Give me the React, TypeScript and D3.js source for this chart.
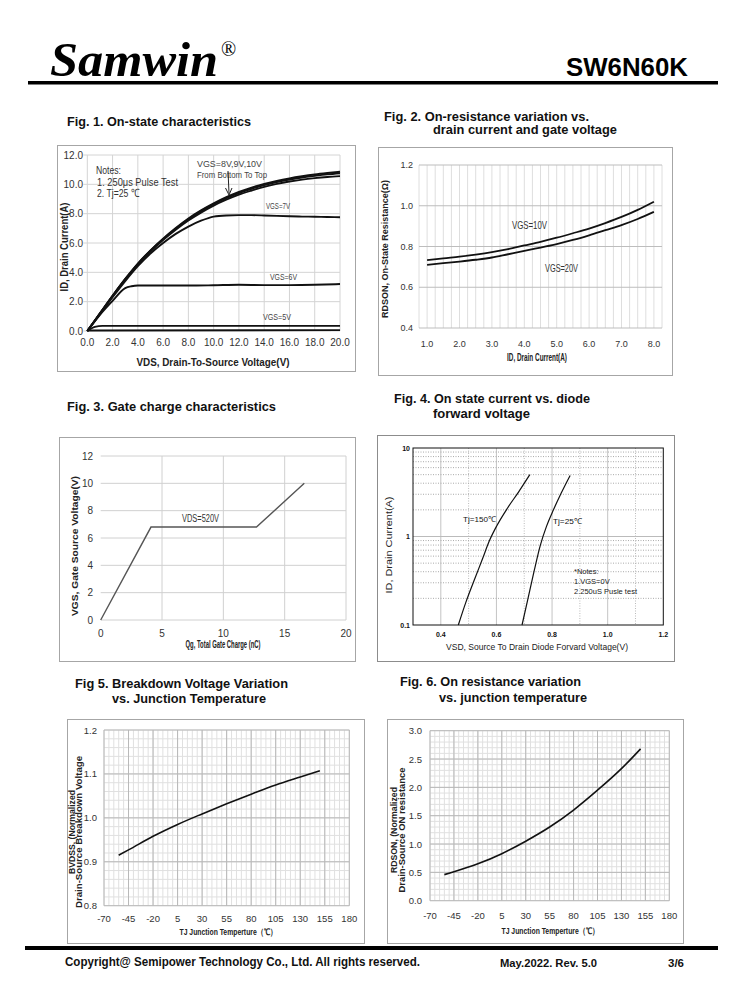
import React from "react";
import * as d3 from "d3";

const ARIAL = "'Liberation Sans', Arial, Helvetica, sans-serif";
const NARROW = "'Liberation Sans Narrow', 'Arial Narrow', 'Liberation Sans', sans-serif";
const SERIF = "'Liberation Serif', 'Times New Roman', serif";

// ---------------- Fig 1 data ----------------
const fig1XTicks = [0, 2, 4, 6, 8, 10, 12, 14, 16, 18, 20];
const fig1YTicks = [0, 2, 4, 6, 8, 10, 12];
const fig1Vgs10 = [[0,0],[1,1.2],[2,2.4],[3,3.55],[4,4.6],[5,5.5],[6,6.3],[7,7.02],[8,7.67],[9,8.22],[10,8.7],[11,9.12],[12,9.48],[13,9.78],[14,10.03],[15,10.24],[16,10.41],[17,10.55],[18,10.67],[19,10.77],[20,10.86]];
const fig1Vgs9 = [[0,0],[1,1.2],[2,2.4],[3,3.54],[4,4.58],[5,5.48],[6,6.27],[7,6.98],[8,7.62],[9,8.17],[10,8.65],[11,9.06],[12,9.41],[13,9.7],[14,9.95],[15,10.16],[16,10.33],[17,10.47],[18,10.58],[19,10.68],[20,10.76]];
const fig1Vgs8 = [[0,0],[1,1.19],[2,2.38],[3,3.5],[4,4.53],[5,5.42],[6,6.2],[7,6.9],[8,7.53],[9,8.07],[10,8.55],[11,8.95],[12,9.3],[13,9.58],[14,9.83],[15,10.03],[16,10.19],[17,10.32],[18,10.42],[19,10.5],[20,10.56]];
const fig1Vgs7 = [[0,0],[1,1.15],[2,2.3],[3,3.4],[4,4.42],[5,5.28],[6,6.0],[7,6.62],[8,7.12],[9,7.52],[10,7.8],[11,7.88],[12,7.9],[13,7.9],[14,7.88],[15,7.85],[16,7.82],[17,7.8],[18,7.79],[19,7.77],[20,7.76]];
const fig1Vgs6 = [[0,0],[1,1.1],[2,2.05],[3,2.92],[3.5,3.05],[4,3.1],[6,3.1],[8,3.1],[10,3.12],[12,3.15],[14,3.13],[16,3.13],[18,3.15],[20,3.2]];
const fig1Vgs5 = [[0,0],[0.6,0.28],[1.2,0.35],[5,0.35],[10,0.35],[15,0.35],[20,0.35]];
const fig1Vgs4 = [[0,0.03],[20,0.06]];

// ---------------- Fig 2 data ----------------
const fig2XTicks = [1, 2, 3, 4, 5, 6, 7, 8];
const fig2YTicks = [0.4, 0.6, 0.8, 1.0, 1.2];
const fig2Id = [1, 1.5, 2, 2.5, 3, 3.5, 4, 4.5, 5, 5.5, 6, 6.5, 7, 7.5, 8];
const fig2Vgs10 = [0.733, 0.742, 0.75, 0.76, 0.772, 0.787, 0.805, 0.823, 0.843, 0.865, 0.888, 0.915, 0.945, 0.98, 1.02];
const fig2Vgs20 = [0.71, 0.718, 0.726, 0.735, 0.746, 0.762, 0.778, 0.795, 0.812, 0.832, 0.855, 0.88, 0.905, 0.935, 0.97];

// ---------------- Fig 3 data ----------------
const fig3XTicks = [0, 5, 10, 15, 20];
const fig3YTicks = [0, 2, 4, 6, 8, 10, 12];
const fig3Qg = [0, 4.1, 12.7, 16.6];
const fig3Vgs = [0, 6.8, 6.8, 10];

// ---------------- Fig 4 data ----------------
const fig4XTicks = [0.4, 0.6, 0.8, 1.0, 1.2];
const fig4YTicks = [0.1, 1, 10];
const fig4Tj150 = [[0.463,0.1],[0.49,0.18],[0.52,0.32],[0.55,0.56],[0.575,0.9],[0.6,1.3],[0.64,2.1],[0.68,3.2],[0.72,5.0]];
const fig4Tj25 = [[0.692,0.1],[0.712,0.19],[0.735,0.4],[0.758,0.8],[0.78,1.3],[0.805,2.0],[0.833,3.1],[0.865,4.9]];

// ---------------- Fig 5 / 6 data ----------------
const tjTicks = [-70, -45, -20, 5, 30, 55, 80, 105, 130, 155, 180];
const fig5YTicks = [0.8, 0.9, 1.0, 1.1, 1.2];
const fig6YTicks = [0, 0.5, 1.0, 1.5, 2.0, 2.5, 3.0];
const tjPoints = [-55, -45, -20, 5, 30, 55, 80, 105, 130, 150];
const fig5Bv = [0.915, 0.927, 0.958, 0.985, 1.009, 1.032, 1.054, 1.075, 1.093, 1.107];
const fig6Rds = [0.46, 0.51, 0.65, 0.83, 1.05, 1.30, 1.60, 1.95, 2.33, 2.68];

const Frame = ({ x0, y0, x1, y1, stroke = "#a6a6a6" }) => (
  <rect x={x0 + 0.5} y={y0 + 0.5} width={x1 - x0} height={y1 - y0} fill="#fff" stroke={stroke} strokeWidth={1} />
);

const T = ({ x, y, w, size, children, weight = "normal", fill = "#333", family = ARIAL, anchor = "start" }) => (
  <text x={x} y={y} fontFamily={family} fontSize={size} fontWeight={weight} fill={fill} textAnchor={anchor}
    textLength={w} lengthAdjust="spacingAndGlyphs">{children}</text>
);

function Fig1() {
  const x = d3.scaleLinear().domain([0, 20]).range([87.3, 340]);
  const y = d3.scaleLinear().domain([0, 12]).range([331, 155]);
  const line = d3.line<number[]>().x((d) => x(d[0])).y((d) => y(d[1])).curve(d3.curveMonotoneX);
  const series = [fig1Vgs10, fig1Vgs9, fig1Vgs8, fig1Vgs7, fig1Vgs6, fig1Vgs5, fig1Vgs4];
  return (
    <g>
      <Frame x0={57} y0={145} x1={355} y1={371} />
      {fig1XTicks.map((t) => (
        <line key={"vx" + t} x1={x(t)} x2={x(t)} y1={y(12)} y2={y(0)} stroke="#d4d4d4" />
      ))}
      {fig1YTicks.map((t) => (
        <line key={"hy" + t} x1={x(0) - 4} x2={x(20)} y1={y(t)} y2={y(t)} stroke="#d4d4d4" />
      ))}
      {fig1YTicks.map((t) => (
        <text key={"ly" + t} x={83} y={y(t) + 3.5} textAnchor="end" fontFamily={ARIAL} fontSize={10} fill="#333">{t.toFixed(1)}</text>
      ))}
      {fig1XTicks.map((t) => (
        <text key={"lx" + t} x={x(t)} y={345.5} textAnchor="middle" fontFamily={ARIAL} fontSize={10} fill="#333">{t.toFixed(1)}</text>
      ))}
      {series.map((s, i) => (
        <path key={"s" + i} d={line(s) || ""} fill="none" stroke="#111" strokeWidth={1.9} />
      ))}
      <text x={213} y={366} textAnchor="middle" fontFamily={NARROW} fontWeight="bold" fontSize={10.5} fill="#222" textLength={153} lengthAdjust="spacingAndGlyphs">VDS,  Drain-To-Source Voltage(V)</text>
      <text transform="translate(68,247) rotate(-90)" textAnchor="middle" fontFamily={NARROW} fontWeight="bold" fontSize={10.5} fill="#222" textLength={89} lengthAdjust="spacingAndGlyphs">ID,  Drain Current(A)</text>
      <T x={96} y={174} w={25} size={11.5}>Notes:</T>
      <T x={97} y={185.5} w={81} size={11.5}>1. 250μs  Pulse Test</T>
      <T x={97} y={197} w={42} size={11.5}>2. Tj=25 ℃</T>
      <T x={197} y={167} w={65} size={9} fill="#444">VGS=8V,9V,10V</T>
      <T x={197} y={177.5} w={70} size={9} fill="#444">From Bottom To Top</T>
      <line x1={228} y1={171} x2={229} y2={193} stroke="#222" strokeWidth={1} />
      <path d="M225.5,188 L229,195 L232,188" fill="none" stroke="#222" strokeWidth={1} />
      <T x={266} y={209} w={24} size={9} fill="#444">VGS=7V</T>
      <T x={270} y={280} w={27} size={9} fill="#444">VGS=6V</T>
      <T x={263} y={320} w={28} size={9} fill="#444">VGS=5V</T>
    </g>
  );
}

function Fig2() {
  const x = d3.scaleLinear().domain([0.75, 8.25]).range([419, 662]);
  const y = d3.scaleLinear().domain([0.4, 1.2]).range([328, 165]);
  const line = d3.line<number>().x((d, i) => x(fig2Id[i])).y((d) => y(d)).curve(d3.curveMonotoneX);
  const vgrid = d3.range(0.75, 8.26, 0.25);
  return (
    <g>
      <Frame x0={378} y0={147} x1={672} y1={375} />
      {vgrid.map((t, i) => (
        <line key={"v" + i} x1={x(t)} x2={x(t)} y1={y(1.2)} y2={y(0.4)} stroke="#dedede" />
      ))}
      {fig2YTicks.map((t) => (
        <line key={"h" + t} x1={x(0.75)} x2={x(8.25)} y1={y(t)} y2={y(t)} stroke="#bdbdbd" />
      ))}
      {fig2YTicks.map((t) => (
        <text key={"ly" + t} x={413} y={y(t) + 3} textAnchor="end" fontFamily={NARROW} fontSize={9} fill="#333">{t.toFixed(1)}</text>
      ))}
      {fig2XTicks.map((t) => (
        <text key={"lx" + t} x={x(t)} y={347} textAnchor="middle" fontFamily={NARROW} fontSize={9} fill="#333">{t.toFixed(1)}</text>
      ))}
      <path d={line(fig2Vgs10) || ""} fill="none" stroke="#111" strokeWidth={1.8} />
      <path d={line(fig2Vgs20) || ""} fill="none" stroke="#111" strokeWidth={1.8} />
      <T x={512} y={229} w={35} size={10.5}>VGS=10V</T>
      <T x={545} y={272} w={33} size={10.5}>VGS=20V</T>
      <text x={537} y={360.5} textAnchor="middle" fontFamily={NARROW} fontWeight="bold" fontSize={10} fill="#222" textLength={60} lengthAdjust="spacingAndGlyphs">ID, Drain Current(A)</text>
      <text transform="translate(387.5,249) rotate(-90)" textAnchor="middle" fontFamily={ARIAL} fontWeight="bold" fontSize={8.5} fill="#222" textLength={138} lengthAdjust="spacingAndGlyphs">RDSON, On-State Resistance(Ω)</text>
    </g>
  );
}

function Fig3() {
  const x = d3.scaleLinear().domain([0, 20]).range([100.7, 346]);
  const y = d3.scaleLinear().domain([0, 12]).range([620, 456]);
  const line = d3.line<number>().x((d, i) => x(fig3Qg[i])).y((d) => y(d));
  return (
    <g>
      <Frame x0={59} y0={437} x1={355} y1={661} />
      {fig3XTicks.filter((t) => t > 0).map((t) => (
        <line key={"v" + t} x1={x(t)} x2={x(t)} y1={y(12)} y2={y(0)} stroke="#d0d0d0" />
      ))}
      {fig3YTicks.map((t) => (
        <line key={"h" + t} x1={x(0)} x2={x(20)} y1={y(t)} y2={y(t)} stroke="#d0d0d0" />
      ))}
      {fig3YTicks.map((t) => (
        <text key={"ly" + t} x={93} y={y(t) + 3.5} textAnchor="end" fontFamily={NARROW} fontSize={10} fill="#333">{t}</text>
      ))}
      {fig3XTicks.map((t) => (
        <text key={"lx" + t} x={x(t)} y={637} textAnchor="middle" fontFamily={NARROW} fontSize={10} fill="#333">{t}</text>
      ))}
      <path d={line(fig3Vgs) || ""} fill="none" stroke="#555" strokeWidth={1.4} />
      <T x={182} y={522} w={37} size={10}>VDS=520V</T>
      <text x={223} y={648} textAnchor="middle" fontFamily={NARROW} fontWeight="bold" fontSize={10.5} fill="#222" textLength={75} lengthAdjust="spacingAndGlyphs">Qg, Total Gate Charge (nC)</text>
      <text transform="translate(78,546) rotate(-90)" textAnchor="middle" fontFamily={ARIAL} fontWeight="bold" fontSize={9.5} fill="#222" textLength={140} lengthAdjust="spacingAndGlyphs">VGS,  Gate Source Voltage(V)</text>
    </g>
  );
}

function Fig4() {
  const x = d3.scaleLinear().domain([0.3, 1.2]).range([413, 663.3]);
  const y = d3.scaleLog().domain([0.1, 10]).range([625, 448]);
  const line = d3.line<number[]>().x((d) => x(d[0])).y((d) => y(d[1])).curve(d3.curveMonotoneX);
  const vMajor = [0.4, 0.6, 0.8, 1.0];
  const vMinor = [0.5, 0.7, 0.9, 1.1];
  const hMinor = [0.2, 0.3, 0.4, 0.5, 0.6, 0.7, 0.8, 0.9, 2, 3, 4, 5, 6, 7, 8, 9];
  return (
    <g>
      <Frame x0={377} y0={435} x1={674} y1={661} stroke="#8c8c8c" />
      {vMajor.map((t) => (
        <line key={"vM" + t} x1={x(t)} x2={x(t)} y1={y(10)} y2={y(0.1)} stroke="#c4c4c4" />
      ))}
      {vMinor.map((t) => (
        <line key={"vm" + t} x1={x(t)} x2={x(t)} y1={y(10)} y2={y(0.1)} stroke="#bbb" strokeDasharray="1,1.5" />
      ))}
      {hMinor.map((t) => (
        <line key={"hm" + t} x1={x(0.3)} x2={x(1.2)} y1={y(t)} y2={y(t)} stroke="#aaa" strokeDasharray="1,1.5" />
      ))}
      <line x1={x(0.3)} x2={x(1.2)} y1={y(1)} y2={y(1)} stroke="#bbb" strokeWidth={1.2} />
      <rect x={x(0.3)} y={y(10)} width={x(1.2) - x(0.3)} height={y(0.1) - y(10)} fill="none" stroke="#111" strokeWidth={1} />
      {fig4YTicks.map((t) => (
        <text key={"ly" + t} x={410} y={y(t) + 2.5} textAnchor="end" fontFamily={ARIAL} fontWeight="bold" fontSize={7} fill="#111">{String(t)}</text>
      ))}
      {fig4XTicks.map((t) => (
        <text key={"lx" + t} x={x(t)} y={636.5} textAnchor="middle" fontFamily={ARIAL} fontWeight="bold" fontSize={7} fill="#111">{t.toFixed(1)}</text>
      ))}
      <path d={line(fig4Tj150) || ""} fill="none" stroke="#111" strokeWidth={1.2} />
      <path d={line(fig4Tj25) || ""} fill="none" stroke="#111" strokeWidth={1.2} />
      <T x={463} y={522} w={33} size={8} fill="#111">Tj=150℃</T>
      <T x={553} y={524} w={29} size={8} fill="#111">Tj=25℃</T>
      <text x={574} y={574} fontFamily={ARIAL} fontSize={7.5} fill="#222">*Notes:</text>
      <text x={574} y={584} fontFamily={ARIAL} fontSize={7.5} fill="#222">1.VGS=0V</text>
      <text x={574} y={594} fontFamily={ARIAL} fontSize={7.5} fill="#222">2.250uS Pusle test</text>
      <text x={537} y={650} textAnchor="middle" fontFamily={ARIAL} fontSize={8.2} fill="#222" textLength={182} lengthAdjust="spacingAndGlyphs">VSD, Source To Drain Diode Forvard Voltage(V)</text>
      <text transform="translate(392,545) rotate(-90)" textAnchor="middle" fontFamily={ARIAL} fontSize={8.2} fill="#222" textLength={97} lengthAdjust="spacingAndGlyphs">ID,  Drain Current(A)</text>
    </g>
  );
}

function TempChart({ x0, y0, x1, y1, px0, px1, py0, py1, yDomain, yTicks, yMinorStep, values, labelRight, title1, title2, t1Len, t2Len, t1x, t2x, tyc, xTitleX, xTitleY, xLabY }) {
  const x = d3.scaleLinear().domain([-70, 180]).range([px0, px1]);
  const y = d3.scaleLinear().domain(yDomain).range([py0, py1]);
  const line = d3.line<number>().x((d, i) => x(tjPoints[i])).y((d) => y(d)).curve(d3.curveMonotoneX);
  const vMinor = d3.range(-70, 180.1, 5);
  const nMinorY = Math.round((yDomain[1] - yDomain[0]) / yMinorStep);
  const hMinor = d3.range(0, nMinorY + 1).map((i) => yDomain[0] + i * yMinorStep);
  return (
    <g>
      <Frame x0={x0} y0={y0} x1={x1} y1={y1} />
      {vMinor.map((t, i) => (
        <line key={"vm" + i} x1={x(t)} x2={x(t)} y1={y(yDomain[1])} y2={y(yDomain[0])} stroke="#e0e0e0" />
      ))}
      {hMinor.map((t, i) => (
        <line key={"hm" + i} x1={x(-70)} x2={x(180)} y1={y(t)} y2={y(t)} stroke="#e0e0e0" />
      ))}
      {tjTicks.map((t) => (
        <line key={"vM" + t} x1={x(t)} x2={x(t)} y1={y(yDomain[1])} y2={y(yDomain[0])} stroke="#b8b8b8" />
      ))}
      {yTicks.map((t) => (
        <line key={"hM" + t} x1={x(-70)} x2={x(180)} y1={y(t)} y2={y(t)} stroke="#b8b8b8" />
      ))}
      {yTicks.map((t) => (
        <text key={"ly" + t} x={labelRight} y={y(t) + 3.5} textAnchor="end" fontFamily={NARROW} fontSize={9.5} fill="#333">{t.toFixed(1)}</text>
      ))}
      {tjTicks.map((t) => (
        <text key={"lx" + t} x={x(t)} y={xLabY} textAnchor="middle" fontFamily={NARROW} fontSize={9.5} fill="#333">{t}</text>
      ))}
      <path d={line(values) || ""} fill="none" stroke="#111" strokeWidth={1.6} />
      <text x={xTitleX} y={xTitleY} textAnchor="middle" fontFamily={ARIAL} fontWeight="bold" fontSize={9} fill="#222" textLength={97} lengthAdjust="spacingAndGlyphs">TJ  Junction Temperture（℃）</text>
      <text transform={`translate(${t1x},${tyc}) rotate(-90)`} textAnchor="middle" fontFamily={ARIAL} fontWeight="bold" fontSize={8.5} fill="#222" textLength={t1Len} lengthAdjust="spacingAndGlyphs">{title1}</text>
      <text transform={`translate(${t2x},${tyc}) rotate(-90)`} textAnchor="middle" fontFamily={ARIAL} fontWeight="bold" fontSize={8.5} fill="#222" textLength={t2Len} lengthAdjust="spacingAndGlyphs">{title2}</text>
    </g>
  );
}

const FigTitle = ({ x, y, w, children }) => (
  <text x={x} y={y} fontFamily={NARROW} fontWeight="bold" fontSize={12.5} fill="#111" textLength={w} lengthAdjust="spacingAndGlyphs">{children}</text>
);

export default function App() {
  return (
    <svg width={738} height={1000} viewBox="0 0 738 1000" style={{ position: "absolute", left: 0, top: 0, background: "#fff" }}>
      <rect x={0} y={0} width={738} height={1000} fill="#fff" />
      {/* Header */}
      <text x={50} y={76} fontFamily={SERIF} fontWeight="bold" fontStyle="italic" fontSize={48} fill="#000" textLength={168} lengthAdjust="spacingAndGlyphs">Samwin</text>
      <text x={221} y={56} fontFamily={SERIF} fontSize={20} fill="#000">®</text>
      <text x={688} y={76} textAnchor="end" fontFamily={ARIAL} fontWeight="bold" fontSize={26} fill="#000" textLength={122} lengthAdjust="spacingAndGlyphs">SW6N60K</text>
      <rect x={28} y={81} width={690} height={3.5} fill="#000" />

      {/* Figure titles */}
      <FigTitle x={67} y={125.5} w={184}>Fig. 1. On-state characteristics</FigTitle>
      <FigTitle x={384} y={121} w={205}>Fig. 2. On-resistance variation vs.</FigTitle>
      <FigTitle x={433} y={134} w={184}>drain current and gate voltage</FigTitle>
      <FigTitle x={67} y={410.5} w={209}>Fig. 3. Gate charge characteristics</FigTitle>
      <FigTitle x={394} y={402.5} w={196}>Fig. 4. On state current vs. diode</FigTitle>
      <FigTitle x={433} y={418} w={97}>forward voltage</FigTitle>
      <FigTitle x={75} y={687.5} w={213}>Fig 5. Breakdown Voltage Variation</FigTitle>
      <FigTitle x={112} y={702.5} w={154}>vs. Junction Temperature</FigTitle>
      <FigTitle x={400} y={685.5} w={181}>Fig. 6. On resistance variation</FigTitle>
      <FigTitle x={439} y={701.5} w={148}>vs. junction temperature</FigTitle>

      <Fig1 />
      <Fig2 />
      <Fig3 />
      <Fig4 />
      <TempChart x0={67} y0={719} x1={364} y1={943} px0={104} px1={349.3} py0={905.7} py1={730}
        yDomain={[0.8, 1.2]} yTicks={fig5YTicks} yMinorStep={0.02} values={fig5Bv} labelRight={97}
        title1="BVDSS, (Normalized" title2="Drain-Source Breakdown Voltage" t1Len={84} t2Len={152}
        t1x={74.5} t2x={82} tyc={832} xTitleX={228} xTitleY={935} xLabY={922} />
      <TempChart x0={387} y0={719} x1={683} y1={943} px0={430} px1={669.3} py0={900.7} py1={730.7}
        yDomain={[0, 3]} yTicks={fig6YTicks} yMinorStep={0.1} values={fig6Rds} labelRight={422}
        title1="RDSON, (Normalized" title2="Drain-Source ON resistance" t1Len={86} t2Len={125}
        t1x={397} t2x={404.5} tyc={830} xTitleX={550} xTitleY={933.5} xLabY={919} />

      {/* Footer */}
      <rect x={25} y={946} width={693} height={4} fill="#000" />
      <text x={65} y={966} fontFamily={ARIAL} fontWeight="bold" fontSize={12} fill="#111" textLength={355} lengthAdjust="spacingAndGlyphs">Copyright@ Semipower Technology Co., Ltd. All rights reserved.</text>
      <text x={500} y={967} fontFamily={NARROW} fontWeight="bold" fontSize={10.5} fill="#111" textLength={97} lengthAdjust="spacingAndGlyphs">May.2022. Rev. 5.0</text>
      <text x={668} y={967} fontFamily={NARROW} fontWeight="bold" fontSize={10.5} fill="#111" textLength={16} lengthAdjust="spacingAndGlyphs">3/6</text>
    </svg>
  );
}
